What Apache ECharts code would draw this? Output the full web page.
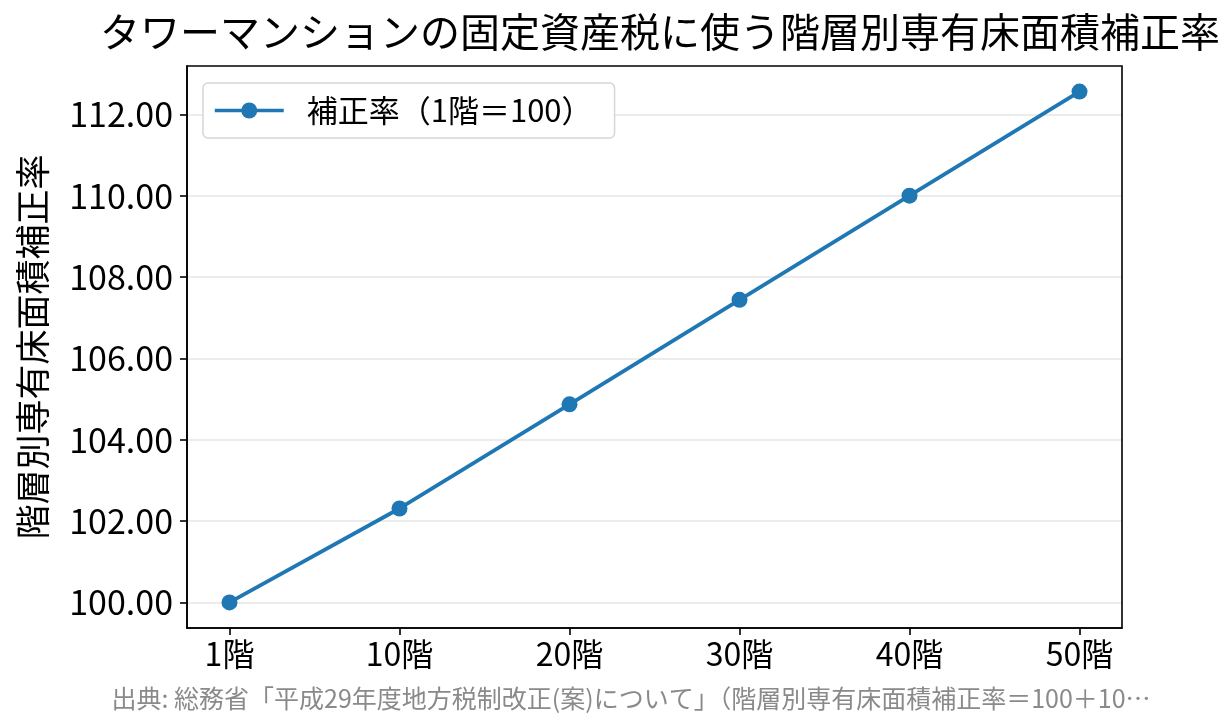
<!DOCTYPE html>
<html lang="ja">
  <head>
    <meta charset="UTF-8" />
    <title>階層別専有床面積補正率</title>
    <script src="https://cdn.jsdelivr.net/npm/echarts@6/dist/echarts.min.js"></script>
    <style>
      html, body { margin: 0; padding: 0; background: #fff; }
      #main { width: 1231px; height: 725px; }
    </style>
  </head>
  <body>
    <div id="main"></div>
    <script>
      const floors = ["1階", "10階", "20階", "30階", "40階", "50階"];
      const rates = [100.0, 102.31, 104.87, 107.44, 110.0, 112.56];
      const yTicks = [100, 102, 104, 106, 108, 110, 112];

      const FONT = "'Noto Sans CJK JP', 'Noto Sans', sans-serif";
      const chart = echarts.init(document.getElementById("main"));

      const option = {
        animation: false,
        textStyle: { fontFamily: FONT },
        title: [
          {
            text: "タワーマンションの固定資産税に使う階層別専有床面積補正率",
            left: 655, top: 7, textAlign: "center",
            textStyle: { fontSize: 40, fontWeight: "normal", color: "#000", fontFamily: FONT },
          },
          {
            text: "出典: 総務省「平成29年度地方税制改正(案)について」（階層別専有床面積補正率＝100＋10…",
            left: 626, top: 681, textAlign: "center",
            textStyle: { fontSize: 25, fontWeight: "normal", color: "#8a8a8a", fontFamily: FONT },
          },
        ],
        legend: {
          left: 203, top: 83,
          padding: [12, 22, 12, 10],
          itemWidth: 69, itemHeight: 20, itemGap: 10,
          backgroundColor: "#fff",
          borderColor: "#d6d6d6", borderWidth: 1.5, borderRadius: 5,
          lineStyle: { width: 3.5 },
          textStyle: { fontSize: 31, color: "#000", fontFamily: FONT, padding: [0, 0, 0, 18] },
          data: ["補正率（1階＝100）"],
        },
        grid: { left: 187, right: 109, top: 66, bottom: 97, outerBoundsMode: "none" },
        xAxis: {
          type: "value",
          min: -0.25, max: 5.25,
          axisLine: { onZero: false, lineStyle: { color: "#000", width: 1.6 } },
          axisTick: { show: true, length: 7, lineStyle: { color: "#000", width: 1.6 }, customValues: [0, 1, 2, 3, 4, 5] },
          axisLabel: {
            customValues: [0, 1, 2, 3, 4, 5],
            formatter: (v) => floors[Math.round(v)],
            fontSize: 32, color: "#000", margin: 10, fontFamily: FONT,
          },
          splitLine: { show: false },
        },
        yAxis: {
          type: "value",
          min: 99.372, max: 113.188,
          name: "階層別専有床面積補正率",
          nameLocation: "middle", nameGap: 137, nameRotate: 90,
          nameTextStyle: { fontSize: 35, color: "#000", fontFamily: FONT },
          axisLine: { show: true, onZero: false, lineStyle: { color: "#000", width: 1.6 } },
          axisTick: { show: true, length: 7, lineStyle: { color: "#000", width: 1.6 }, customValues: yTicks },
          axisLabel: {
            customValues: yTicks,
            formatter: (v) => v.toFixed(2),
            fontSize: 34, color: "#000", margin: 14, fontFamily: FONT,
          },
          splitLine: { show: true, lineStyle: { color: "#e6e6e6", width: 1.5 } },
        },
        series: [
          {
            name: "補正率（1階＝100）",
            type: "line",
            data: rates.map((r, i) => [i, r]),
            symbol: "circle", symbolSize: 16,
            lineStyle: { color: "#1f77b4", width: 3.8 },
            itemStyle: { color: "#1f77b4" },
          },
        ],
      };
      chart.setOption(option);

      // frame: right and top spines
      const g = chart.getModel().getComponent("grid").coordinateSystem.getRect();
      chart.setOption({
        graphic: [{
          type: "rect", silent: true, z: 10,
          shape: { x: g.x, y: g.y, width: g.width, height: g.height },
          style: { fill: "none", stroke: "#000", lineWidth: 1.6 },
        }],
      });
    </script>
  </body>
</html>
